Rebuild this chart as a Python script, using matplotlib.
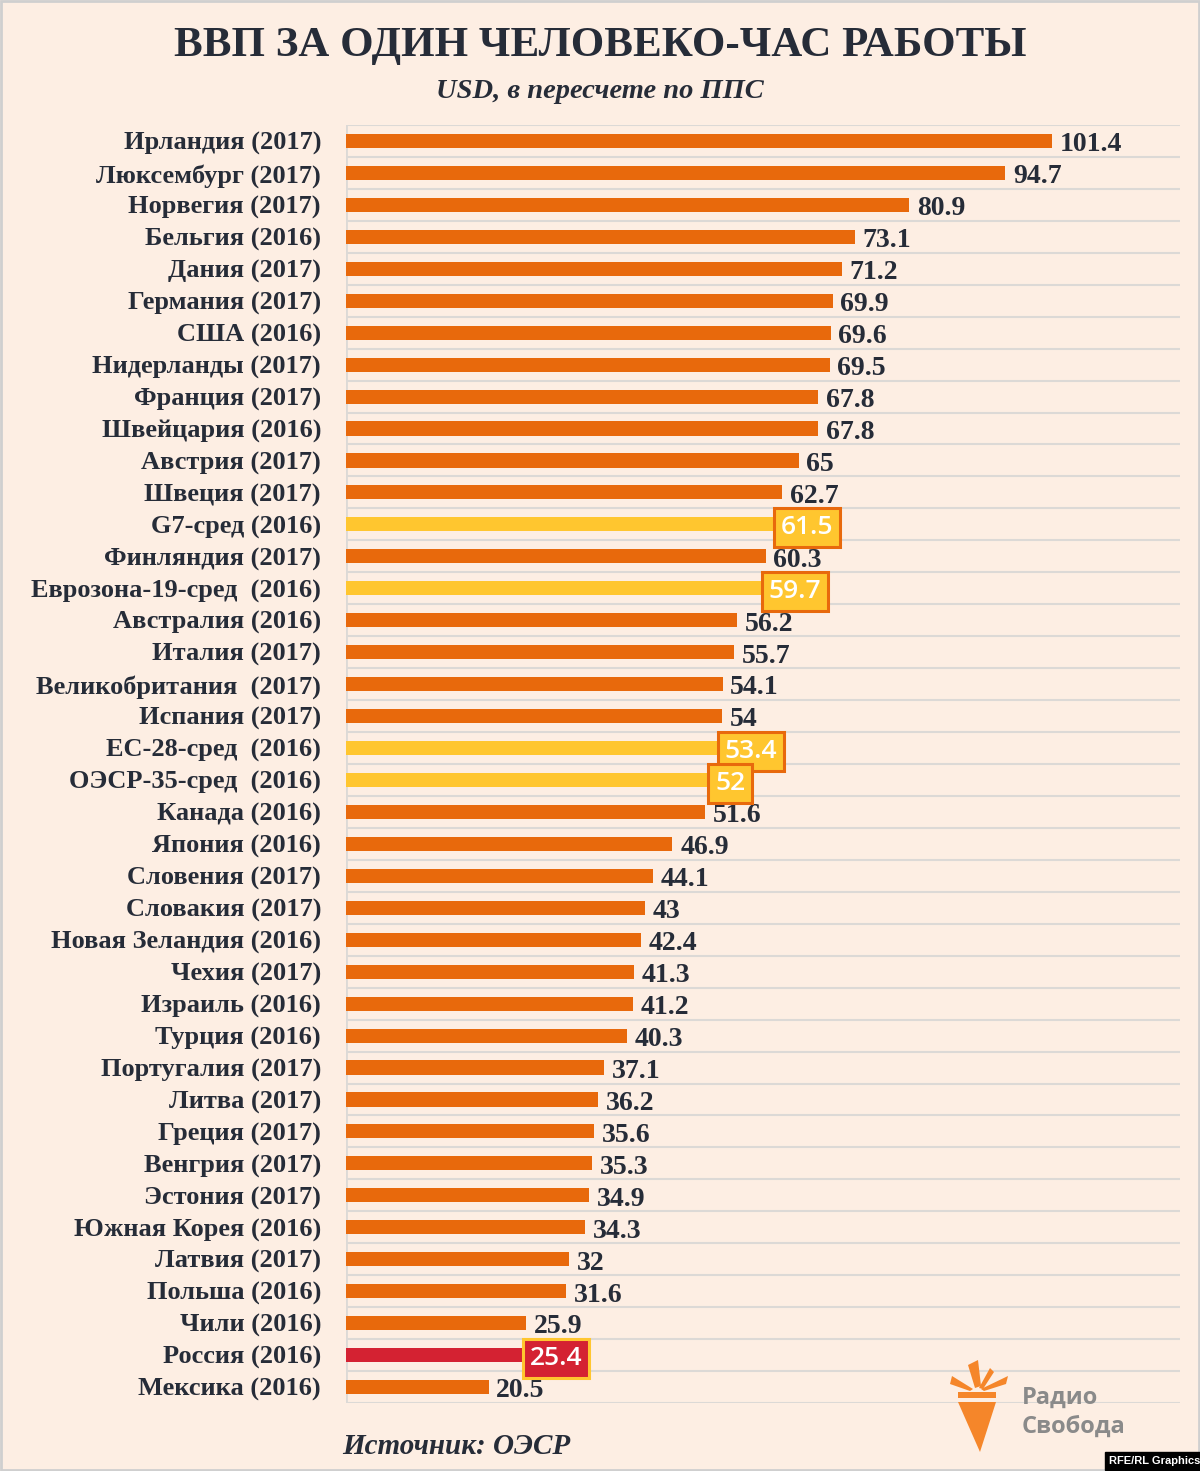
import matplotlib.pyplot as plt
from matplotlib.patches import Polygon
import numpy as np

# data
countries = ["Ирландия (2017)", "Люксембург (2017)", "Норвегия (2017)", "Бельгия (2016)",
             "Дания (2017)", "Германия (2017)", "США (2016)", "Нидерланды (2017)",
             "Франция (2017)", "Швейцария (2016)", "Австрия (2017)", "Швеция (2017)",
             "G7-сред (2016)", "Финляндия (2017)", "Еврозона-19-сред  (2016)", "Австралия (2016)",
             "Италия (2017)", "Великобритания  (2017)", "Испания (2017)", "ЕС-28-сред  (2016)",
             "ОЭСР-35-сред  (2016)", "Канада (2016)", "Япония (2016)", "Словения (2017)",
             "Словакия (2017)", "Новая Зеландия (2016)", "Чехия (2017)", "Израиль (2016)",
             "Турция (2016)", "Португалия (2017)", "Литва (2017)", "Греция (2017)",
             "Венгрия (2017)", "Эстония (2017)", "Южная Корея (2016)", "Латвия (2017)",
             "Польша (2016)", "Чили (2016)", "Россия (2016)", "Мексика (2016)"]
values = [101.4, 94.7, 80.9, 73.1, 71.2, 69.9, 69.6, 69.5, 67.8, 67.8, 65, 62.7,
          61.5, 60.3, 59.7, 56.2, 55.7, 54.1, 54, 53.4, 52, 51.6, 46.9, 44.1,
          43, 42.4, 41.3, 41.2, 40.3, 37.1, 36.2, 35.6, 35.3, 34.9, 34.3, 32,
          31.6, 25.9, 25.4, 20.5]
value_labels = ["101.4", "94.7", "80.9", "73.1", "71.2", "69.9", "69.6", "69.5", "67.8", "67.8",
                "65", "62.7", "61.5", "60.3", "59.7", "56.2", "55.7", "54.1", "54", "53.4",
                "52", "51.6", "46.9", "44.1", "43", "42.4", "41.3", "41.2", "40.3", "37.1",
                "36.2", "35.6", "35.3", "34.9", "34.3", "32", "31.6", "25.9", "25.4", "20.5"]
averages = ["G7-сред (2016)", "Еврозона-19-сред  (2016)", "ЕС-28-сред  (2016)", "ОЭСР-35-сред  (2016)"]
focus = "Россия (2016)"

BG = "#fdeee3"
ORANGE = "#e8690c"
YELLOW = "#ffc62f"
RED = "#d42232"
DARK = "#262c38"
GRID = "#dcd9d6"
SERIF = "Liberation Serif"

W, H = 1200, 1471
fig = plt.figure(figsize=(W / 100, H / 100), dpi=100, facecolor=BG)
ax = fig.add_axes([346 / W, 1 - 1403 / H, (1180 - 346) / W, (1403 - 125) / H])
ax.set_facecolor(BG)

n = len(countries)
y = np.arange(n)
colors = []
for c in countries:
    if c == focus:
        colors.append(RED)
    elif c in averages:
        colors.append(YELLOW)
    else:
        colors.append(ORANGE)

ax.barh(y, values, height=0.44, color=colors, zorder=3)
ax.set_ylim(n - 0.5, -0.5)
ax.set_xlim(0, 119.8)

# row separators
for b in np.arange(-0.5, n, 1.0):
    ax.axhline(b, color=GRID, lw=1.5, zorder=1)
ax.axvline(0, color=GRID, lw=2, zorder=1)

for s in ax.spines.values():
    s.set_visible(False)
ax.set_xticks([])
ax.set_yticks(y)
ax.set_yticklabels(countries, fontsize=19, fontweight="bold", color=DARK, family=SERIF)
ax.tick_params(axis="y", length=0, pad=18)

for i, (c, v, lab) in enumerate(zip(countries, values, value_labels)):
    if c in averages or c == focus:
        fc, ec = (RED, YELLOW) if c == focus else (YELLOW, ORANGE)
        ax.text(v + 1.0, i + 0.1, lab, va="center", ha="left", fontsize=19,
                fontweight="semibold", color="white", family="Open Sans", zorder=5,
                bbox=dict(boxstyle="square,pad=0.26", fc=fc, ec=ec, lw=2.2))
    else:
        ax.text(v + 1.1, i + 0.12, lab, va="center", ha="left", fontsize=20,
                fontweight="bold", color=DARK, family=SERIF, zorder=4)

# titles
fig.text(0.5, 1 - 46 / H, "ВВП ЗА ОДИН ЧЕЛОВЕКО-ЧАС РАБОТЫ", ha="center", va="center",
         fontsize=31, fontweight="bold", color=DARK, family=SERIF)
fig.text(0.5, 1 - 91 / H, "USD, в пересчете по ППС", ha="center", va="center",
         fontsize=20.5, fontweight="bold", style="italic", color=DARK, family=SERIF)
fig.text(456 / W, 1 - 1446 / H, "Источник: ОЭСР", ha="center", va="center",
         fontsize=21, fontweight="bold", style="italic", color=DARK, family=SERIF)

# logo: simple torch + text
def px(x, yy):
    return (x / W, 1 - yy / H)

torch = "#f5862a"
fig.patches.append(Polygon([px(958, 1402), px(996, 1402), px(980, 1452)],
                           closed=True, transform=fig.transFigure, fc=torch, ec="none"))
fig.patches.append(Polygon([px(958, 1398), px(996, 1398), px(996, 1392), px(958, 1392)],
                           closed=True, transform=fig.transFigure, fc=torch, ec="none"))
for pts in ([px(975, 1388), px(968, 1365), px(978, 1360), px(981, 1386)],
            [px(973, 1389), px(952, 1376), px(950, 1384), px(970, 1391)],
            [px(981, 1389), px(1008, 1376), px(1006, 1384), px(984, 1391)],
            [px(979, 1388), px(990, 1368), px(994, 1372), px(983, 1389)]):
    fig.patches.append(Polygon(pts, closed=True, transform=fig.transFigure, fc=torch, ec="none"))

fig.text(1022 / W, 1 - 1398 / H, "Радио", ha="left", va="center", fontsize=17,
         fontweight="bold", color="#8a8a8a", family="Open Sans")
fig.text(1022 / W, 1 - 1427 / H, "Свобода", ha="left", va="center", fontsize=17,
         fontweight="bold", color="#8a8a8a", family="Open Sans")

fig.text(1155 / W, 1 - 1461 / H, "RFE/RL Graphics", ha="center", va="center", fontsize=8,
         fontweight="bold", color="white", family="Liberation Sans",
         bbox=dict(boxstyle="square,pad=0.35", fc="black", ec="black"))

# thin frame around the whole picture
fig.patches.append(plt.Rectangle((0.001, 0.001), 0.998, 0.998, transform=fig.transFigure,
                                 fill=False, ec="#cfcfcf", lw=2))

fig.savefig("out.png", dpi=100, facecolor=BG)
